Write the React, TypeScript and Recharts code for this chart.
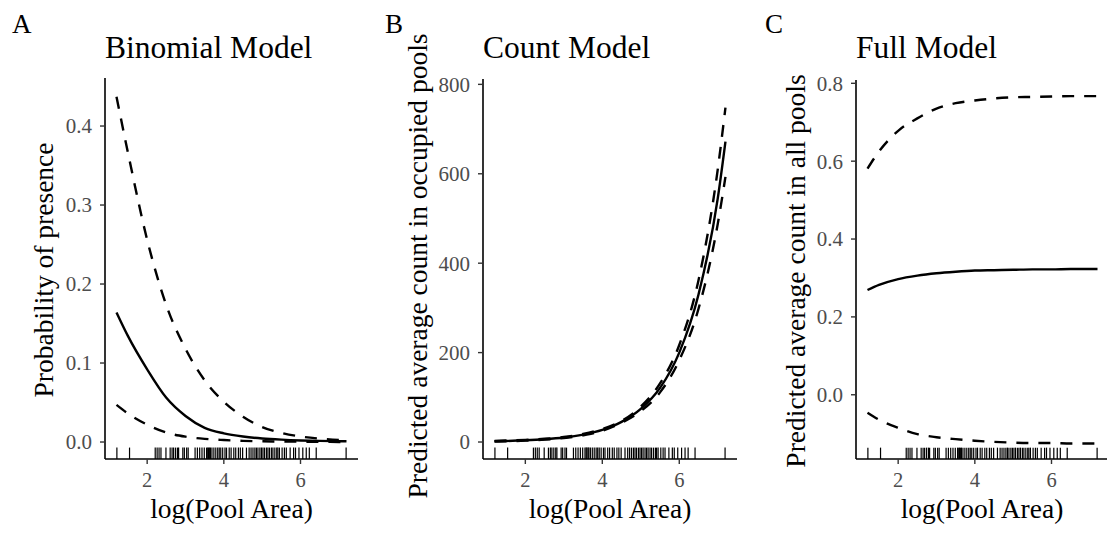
import React from "react";
import { LineChart, Line, XAxis, YAxis, ReferenceLine } from "recharts";

const X_GRID = [1.2, 1.5, 2, 2.5, 3, 3.5, 4, 4.5, 5, 5.5, 6, 6.5, 7, 7.2];

// Panel A: Binomial model (probability of presence)
const A_MID = [0.164, 0.134, 0.092, 0.056, 0.033, 0.018, 0.011, 0.007, 0.0045, 0.003, 0.002, 0.0014, 0.001, 0.0009];
const A_HI = [0.437, 0.366, 0.256, 0.173, 0.118, 0.078, 0.051, 0.032, 0.019, 0.0115, 0.007, 0.0043, 0.0025, 0.0018];
const A_LO = [0.047, 0.036, 0.022, 0.012, 0.0068, 0.004, 0.0025, 0.0015, 0.0009, 0.0006, 0.0004, 0.0002, 0.0001, 0.0001];

// Panel B: Count model
const B_MID = [1.7, 2.3, 3.8, 6.2, 10, 16.5, 27, 45, 74, 121, 200, 330, 545, 672];
const B_HI = [2.6, 3.3, 4.8, 7.2, 11.2, 18, 29, 47, 79, 131, 217, 362, 610, 748];
const B_LO = [1.1, 1.6, 3.0, 5.3, 8.9, 15, 25, 43, 69, 111, 183, 298, 488, 593];

// Panel C: Full model
const C_MID = [0.269, 0.282, 0.297, 0.306, 0.312, 0.316, 0.319, 0.32, 0.321, 0.322, 0.322, 0.323, 0.323, 0.323];
const C_HI = [0.581, 0.625, 0.678, 0.71, 0.735, 0.749, 0.756, 0.761, 0.764, 0.765, 0.766, 0.767, 0.767, 0.767];
const C_LO = [-0.046, -0.064, -0.085, -0.101, -0.109, -0.114, -0.118, -0.121, -0.123, -0.124, -0.124, -0.125, -0.125, -0.125];

// Rug: observed log(Pool Area)
const RUG = [
  1.21, 1.54, 2.21, 2.26, 2.31, 2.36, 2.49, 2.6, 2.65, 2.69, 2.74, 2.79, 2.82, 2.93, 2.97, 3.03, 3.07,
  3.25, 3.31, 3.37, 3.43, 3.49, 3.55, 3.58, 3.6, 3.63, 3.65, 3.69, 3.74, 3.79, 3.84, 3.88, 3.92, 3.97,
  4.03, 4.07, 4.14, 4.19, 4.26, 4.31, 4.38, 4.43, 4.49, 4.59, 4.66, 4.71, 4.76, 4.81, 4.85, 4.89, 4.94,
  4.98, 5.02, 5.06, 5.11, 5.15, 5.19, 5.24, 5.28, 5.33, 5.38, 5.41, 5.45, 5.52, 5.58, 5.63, 5.73, 5.82,
  5.87, 5.96, 6.06, 6.15, 6.23, 6.41, 7.19,
];

const X_TICKS = [2, 4, 6];
const A_TICKS = [0, 0.1, 0.2, 0.3, 0.4];
const B_TICKS = [0, 200, 400, 600, 800];
const C_TICKS = [0, 0.2, 0.4, 0.6, 0.8];

const PANEL_LETTERS = ["A", "B", "C"];
const TITLES = ["Binomial Model", "Count Model", "Full Model"];
const Y_TITLES = [
  "Probability of presence",
  "Predicted average count in occupied pools",
  "Predicted average count in all pools",
];
const X_TITLE = "log(Pool Area)";

const FONT = '"Liberation Serif", "Times New Roman", serif';

const build = (lo: number[], mid: number[], hi: number[]) =>
  X_GRID.map((x, i) => ({ x, lo: lo[i], mid: mid[i], hi: hi[i] }));

type PanelProps = {
  left: number;
  width: number;
  top: number;
  marginLeft: number;
  marginRight: number;
  domain: [number, number];
  ticks: number[];
  fmt: (v: number) => string;
  data: { x: number; lo: number; mid: number; hi: number }[];
};

const Panel = ({ left, width, top, marginLeft, marginRight, domain, ticks, fmt, data }: PanelProps) => {
  const rugTop = domain[0] + 0.03 * (domain[1] - domain[0]);
  return (
    <div style={{ position: "absolute", left, top: 0 }}>
      <LineChart
        width={width}
        height={537}
        data={data}
        margin={{ top, right: marginRight, bottom: 48, left: marginLeft }}
      >
        <XAxis
          dataKey="x"
          type="number"
          domain={[0.9, 7.5]}
          ticks={X_TICKS}
          allowDataOverflow
          height={30}
          tickSize={5}
          tickMargin={8}
          axisLine={{ stroke: "#000", strokeWidth: 1.6 }}
          tickLine={{ stroke: "#333", strokeWidth: 1.4 }}
          tick={{ fill: "#4D4D4D", fontSize: 20.5, fontFamily: FONT }}
        />
        <YAxis
          type="number"
          domain={domain}
          ticks={ticks}
          allowDataOverflow
          width={60}
          tickSize={5}
          tickMargin={8}
          tickFormatter={fmt}
          axisLine={{ stroke: "#000", strokeWidth: 1.6 }}
          tickLine={{ stroke: "#333", strokeWidth: 1.4 }}
          tick={{ fill: "#4D4D4D", fontSize: 21, fontFamily: FONT }}
        />
        {RUG.map((r, i) => (
          <ReferenceLine
            key={i}
            segment={[
              { x: r, y: domain[0] },
              { x: r, y: rugTop },
            ]}
            stroke="#000"
            strokeWidth={1.2}
            ifOverflow="visible"
          />
        ))}
        <Line dataKey="hi" type="monotone" stroke="#000" strokeWidth={2.4} strokeDasharray="12 10" dot={false} isAnimationActive={false} />
        <Line dataKey="lo" type="monotone" stroke="#000" strokeWidth={2.4} strokeDasharray="12 10" dot={false} isAnimationActive={false} />
        <Line dataKey="mid" type="monotone" stroke="#000" strokeWidth={2.4} dot={false} isAnimationActive={false} />
      </LineChart>
    </div>
  );
};

export default function App() {
  const letterX = [12, 385, 765];
  const plotLeft = [105, 483, 856];
  const plotCenterX = [231.5, 610, 982];
  const yTitleX = [53, 427, 805];
  const yTitleY = [270, 266, 271];
  return (
    <div
      style={{
        position: "absolute",
        left: 0,
        top: 0,
        width: 1107,
        height: 537,
        overflow: "hidden",
        background: "#fff",
      }}
    >
      <Panel left={0} width={370} top={78} marginLeft={45} marginRight={12} domain={[-0.0215, 0.4608]} ticks={A_TICKS} fmt={(v) => v.toFixed(1)} data={build(A_LO, A_MID, A_HI)} />
      <Panel left={370} width={380} top={79} marginLeft={53} marginRight={13} domain={[-38, 812]} ticks={B_TICKS} fmt={(v) => String(v)} data={build(B_LO, B_MID, B_HI)} />
      <Panel left={750} width={360} top={80} marginLeft={46} marginRight={1} domain={[-0.165, 0.8085]} ticks={C_TICKS} fmt={(v) => v.toFixed(1)} data={build(C_LO, C_MID, C_HI)} />
      <svg
        width={1107}
        height={537}
        style={{ position: "absolute", left: 0, top: 0, pointerEvents: "none" }}
      >
        {PANEL_LETTERS.map((l, i) => (
          <text key={"l" + i} x={letterX[i]} y={33} fontFamily={FONT} fontSize={27} fill="#000">
            {l}
          </text>
        ))}
        {TITLES.map((t, i) => (
          <text key={"t" + i} x={plotLeft[i]} y={58} fontFamily={FONT} fontSize={31.5} fill="#000">
            {t}
          </text>
        ))}
        {Y_TITLES.map((t, i) => (
          <text
            key={"y" + i}
            x={yTitleX[i]}
            y={yTitleY[i]}
            transform={`rotate(-90 ${yTitleX[i]} ${yTitleY[i]})`}
            textAnchor="middle"
            fontFamily={FONT}
            fontSize={27.5}
            fill="#000"
          >
            {t}
          </text>
        ))}
        {plotCenterX.map((cx, i) => (
          <text key={"x" + i} x={cx} y={518} textAnchor="middle" fontFamily={FONT} fontSize={27.5} fill="#000">
            {X_TITLE}
          </text>
        ))}
      </svg>
    </div>
  );
}
